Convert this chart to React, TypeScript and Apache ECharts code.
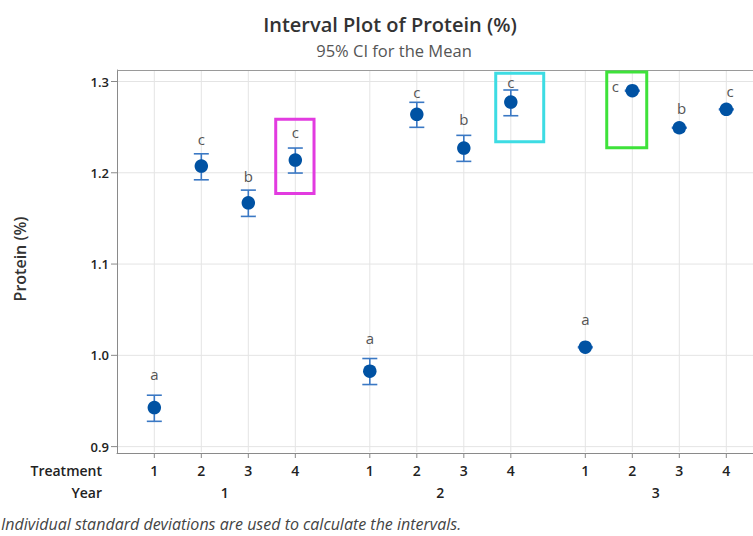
import React, { useEffect, useRef } from "react";
import * as echarts from "echarts";

const years = [1, 1, 1, 1, 2, 2, 2, 2, 3, 3, 3, 3];
const treatments = [1, 2, 3, 4, 1, 2, 3, 4, 1, 2, 3, 4];
const means = [0.9428, 1.2073, 1.1671, 1.2139, 0.9826, 1.264, 1.2271, 1.2775, 1.0089, 1.2899, 1.2493, 1.2695];
const lower = [0.9277, 1.1923, 1.1522, 1.1997, 0.968, 1.2498, 1.2125, 1.2625, 1.0083, 1.2894, 1.2488, 1.269];
const upper = [0.9563, 1.2208, 1.181, 1.2271, 0.9965, 1.2772, 1.241, 1.2907, 1.0095, 1.2904, 1.2498, 1.27];
const letters = ["a", "c", "b", "c", "a", "c", "b", "c", "a", "c", "b", "c"];
const letterLevels = [0.9793, 1.237, 1.1967, 1.245, 1.0195, 1.2888, 1.2589, 1.2991, 1.0396, 1.2954, 1.2706, 1.2899];
const letterShift = [0, 0, 0, 0, 0, 0, 0, 0, 0, -0.36, 0.05, 0.08];
const yearLabels = ["1", "2", "3"];
const yTicks = [0.9, 1.0, 1.1, 1.2, 1.3];
const highlightLow = [1.1774, 1.234, 1.2274];
const highlightHigh = [1.2586, 1.309, 1.3104];
const highlightLeft = [3.583, 8.264, 10.626];
const highlightRight = [4.398, 9.285, 11.477];
const highlightColors = ["#E23BE0", "#3DDCE3", "#3EE23A"];

const GROUP_STEP = 4.585;
const pos = (i: number) => treatments[i] + (years[i] - 1) * GROUP_STEP;

const FONT = "'Open Sans', 'Noto Sans', sans-serif";

export default function App() {
  const ref = useRef<HTMLDivElement>(null);
  useEffect(() => {
    const chart = echarts.init(ref.current!, null, { renderer: "svg" });
    const intervalData = means.map((m, i) => [pos(i), m, lower[i], upper[i]]);
    const meanData = means.map((m, i) => [pos(i), m]);
    const letterData = means.map((m, i) => [pos(i) + letterShift[i], letterLevels[i], i]);
    const catData = means.map((m, i) => [pos(i), treatments[i]]);
    const yearData = yearLabels.map((y, k) => [2.5 + k * GROUP_STEP, k]);

    const option: any = {
      animation: false,
      backgroundColor: "#fff",
      graphic: [
        {
          type: "text",
          x: 390,
          y: 24,
          style: {
            text: "Interval Plot of Protein (%)",
            fill: "#333",
            font: `600 20px ${FONT}`,
            textAlign: "center",
            textVerticalAlign: "middle",
          },
        },
        {
          type: "text",
          x: 394,
          y: 50,
          style: {
            text: "95% CI for the Mean",
            fill: "#555",
            font: `16.5px ${FONT}`,
            textAlign: "center",
            textVerticalAlign: "middle",
          },
        },
        {
          type: "text",
          x: 20,
          y: 259,
          rotation: Math.PI / 2,
          style: {
            text: "Protein (%)",
            fill: "#333",
            font: `600 16px ${FONT}`,
            textAlign: "center",
            textVerticalAlign: "middle",
          },
        },
        {
          type: "text",
          x: 102,
          y: 470,
          style: {
            text: "Treatment",
            fill: "#222",
            font: `600 14px ${FONT}`,
            textAlign: "right",
            textVerticalAlign: "middle",
          },
        },
        {
          type: "text",
          x: 102,
          y: 492,
          style: {
            text: "Year",
            fill: "#222",
            font: `600 14px ${FONT}`,
            textAlign: "right",
            textVerticalAlign: "middle",
          },
        },
        {
          type: "text",
          x: 1,
          y: 524,
          style: {
            text: "Individual standard deviations are used to calculate the intervals.",
            fill: "#444",
            font: `italic 16px ${FONT}`,
            textAlign: "left",
            textVerticalAlign: "middle",
          },
        },
      ],
      grid: {
        left: 117,
        top: 70,
        right: 0,
        bottom: 83,
        show: false,
        containLabel: false,
      },
      xAxis: {
        type: "value",
        min: 0.206,
        max: 0.206 + 636 / 47,
        axisLabel: { show: false },
        axisTick: { show: false },
        splitLine: { show: false },
        axisLine: { show: true, lineStyle: { color: "#8a8a8a", width: 1 } },
      },
      yAxis: {
        type: "value",
        min: 0.893,
        max: 1.3126,
        axisLabel: { show: false },
        axisTick: { show: false },
        splitLine: { show: false },
        axisLine: { show: true, lineStyle: { color: "#8a8a8a", width: 1 } },
      },
      series: [
        {
          type: "custom",
          name: "frame",
          z: 1,
          clip: false,
          silent: true,
          data: [[0, 0]],
          renderItem: (params: any) => {
            const cs = params.coordSys;
            return {
              type: "line",
              shape: { x1: cs.x, y1: cs.y + 0.5, x2: cs.x + cs.width, y2: cs.y + 0.5 },
              style: { stroke: "#9a9a9a", lineWidth: 1 },
            };
          },
        },
        {
          type: "custom",
          name: "ygrid",
          z: 1,
          clip: false,
          silent: true,
          data: yTicks.map((v) => [0, v]),
          renderItem: (params: any, api: any) => {
            const cs = params.coordSys;
            const p = api.coord([0, api.value(1)]);
            return {
              type: "group",
              children: [
                {
                  type: "line",
                  shape: { x1: cs.x + 1, y1: p[1], x2: cs.x + cs.width, y2: p[1] },
                  style: { stroke: "#e4e4e4", lineWidth: 1 },
                },
                {
                  type: "line",
                  shape: { x1: cs.x - 6, y1: p[1], x2: cs.x, y2: p[1] },
                  style: { stroke: "#8a8a8a", lineWidth: 1 },
                },
                {
                  type: "text",
                  x: cs.x - 8,
                  y: p[1],
                  style: {
                    text: api.value(1).toFixed(1),
                    fill: "#222",
                    font: `600 13px ${FONT}`,
                    textAlign: "right",
                    textVerticalAlign: "middle",
                  },
                },
              ],
            };
          },
        },
        {
          type: "custom",
          name: "xgrid",
          z: 1,
          clip: false,
          silent: true,
          data: catData,
          renderItem: (params: any, api: any) => {
            const cs = params.coordSys;
            const p = api.coord([api.value(0), 1]);
            const bottom = cs.y + cs.height;
            return {
              type: "group",
              children: [
                {
                  type: "line",
                  shape: { x1: p[0], y1: cs.y + 1, x2: p[0], y2: bottom - 1 },
                  style: { stroke: "#e4e4e4", lineWidth: 1 },
                },
                {
                  type: "line",
                  shape: { x1: p[0], y1: bottom, x2: p[0], y2: bottom + 5 },
                  style: { stroke: "#8a8a8a", lineWidth: 1 },
                },
                {
                  type: "text",
                  x: p[0],
                  y: bottom + 17,
                  style: {
                    text: String(api.value(1)),
                    fill: "#222",
                    font: `600 14px ${FONT}`,
                    textAlign: "center",
                    textVerticalAlign: "middle",
                  },
                },
              ],
            };
          },
        },
        {
          type: "custom",
          name: "years",
          z: 1,
          clip: false,
          silent: true,
          data: yearData,
          renderItem: (params: any, api: any) => {
            const cs = params.coordSys;
            const p = api.coord([api.value(0), 1]);
            return {
              type: "text",
              x: p[0],
              y: cs.y + cs.height + 39,
              style: {
                text: yearLabels[api.value(1)],
                fill: "#222",
                font: `600 14px ${FONT}`,
                textAlign: "center",
                textVerticalAlign: "middle",
              },
            };
          },
        },
        {
          type: "custom",
          name: "CI",
          z: 2,
          data: intervalData,
          renderItem: (params: any, api: any) => {
            const x = api.value(0);
            const lo = api.coord([x, api.value(2)]);
            const hi = api.coord([x, api.value(3)]);
            const hw = 7.5;
            const st = { stroke: "#3a78c4", lineWidth: 1.6 };
            return {
              type: "group",
              children: [
                { type: "line", shape: { x1: lo[0], y1: lo[1], x2: hi[0], y2: hi[1] }, style: st },
                { type: "line", shape: { x1: lo[0] - hw, y1: lo[1], x2: lo[0] + hw, y2: lo[1] }, style: st },
                { type: "line", shape: { x1: hi[0] - hw, y1: hi[1], x2: hi[0] + hw, y2: hi[1] }, style: st },
              ],
            };
          },
        },
        {
          type: "scatter",
          name: "Mean",
          z: 3,
          symbol: "circle",
          symbolSize: 13.5,
          itemStyle: { color: "#0052a3", opacity: 1 },
          data: meanData,
        },
        {
          type: "custom",
          name: "letters",
          z: 4,
          clip: false,
          data: letterData,
          renderItem: (params: any, api: any) => {
            const p = api.coord([api.value(0), api.value(1)]);
            return {
              type: "text",
              x: p[0],
              y: p[1],
              style: {
                text: letters[api.value(2)],
                fill: "#555",
                font: `15px ${FONT}`,
                textAlign: "center",
                textVerticalAlign: "middle",
              },
            };
          },
        },
        {
          type: "custom",
          name: "highlights",
          z: 5,
          clip: false,
          data: highlightLeft.map((l, k) => [l, highlightLow[k], highlightRight[k], highlightHigh[k], k]),
          renderItem: (params: any, api: any) => {
            const a = api.coord([api.value(0), api.value(3)]);
            const b = api.coord([api.value(2), api.value(1)]);
            return {
              type: "rect",
              shape: { x: a[0], y: a[1], width: b[0] - a[0], height: b[1] - a[1] },
              style: { fill: "none", stroke: highlightColors[api.value(4)], lineWidth: 3 },
            };
          },
        },
      ],
    };
    chart.setOption(option);
    return () => chart.dispose();
  }, []);
  return (
    <div
      ref={ref}
      style={{ position: "absolute", left: 0, top: 0, width: 753, height: 536 }}
    />
  );
}
